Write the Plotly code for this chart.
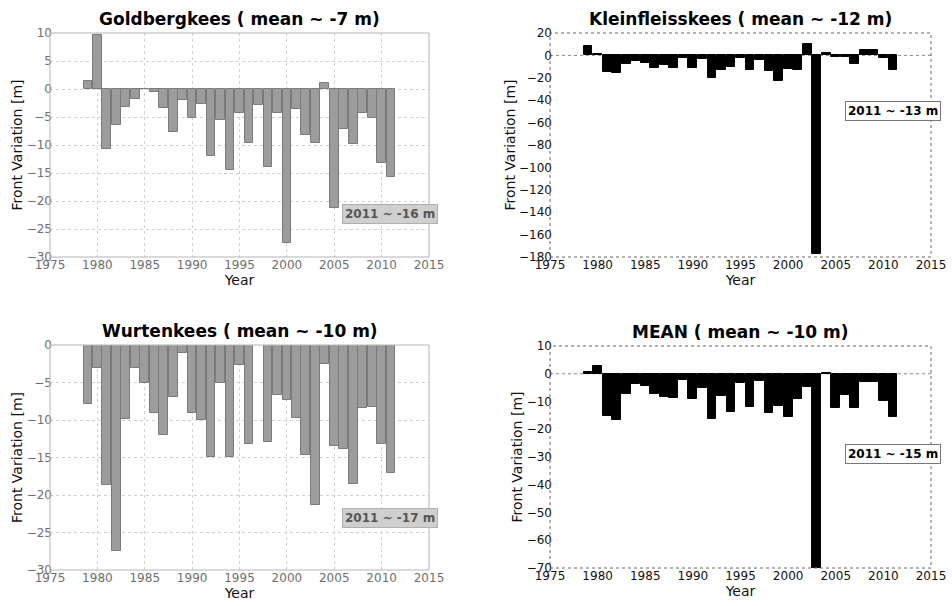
import plotly.graph_objects as go

years = list(range(1979, 2012))

gold = [1.5, 9.6, -10.8, -6.4, -3.3, -1.7, 0.0, -0.6, -3.4, -7.6, -1.9, -5.1,
        -2.6, -12.0, -5.5, -14.5, -4.2, -9.6, -2.9, -13.9, -4.2, -27.5, -3.6,
        -8.2, -9.6, 1.0, -21.3, -7.2, -9.9, -4.3, -5.1, -13.3, -15.7]

klein = [8.6, 1.5, -14.5, -15.4, -7.7, -5.0, -6.5, -11.6, -8.6, -11.3, -2.7,
         -11.6, -3.0, -20.2, -12.8, -10.7, -2.7, -13.0, -4.2, -14.2, -22.8,
         -12.5, -13.4, 9.8, -177.0, 2.4, -1.8, -1.2, -7.7, 4.7, 4.7, -2.7, -13.0]

wurten = [-7.9, -3.0, -18.7, -27.4, -9.8, -3.0, -5.0, -9.0, -12.0, -6.9, -1.0,
          -9.0, -10.0, -14.9, -5.1, -14.9, -2.7, -13.2, 0.0, -12.9, -6.6, -7.3,
          -9.7, -14.6, -21.3, -2.5, -13.4, -13.9, -18.5, -8.4, -8.2, -13.2, -17.0]

mean = [0.6, 2.7, -15.1, -16.6, -7.3, -3.7, -4.4, -7.4, -8.4, -8.7, -2.3, -9.0,
        -5.3, -16.3, -8.0, -13.7, -3.2, -12.1, -2.6, -14.3, -11.6, -15.7, -9.2,
        -4.7, -70.0, 0.2, -12.2, -7.7, -12.2, -2.8, -2.9, -9.9, -15.6]

titles = ["Goldbergkees ( mean ~ -7 m)", "Kleinfleisskees ( mean ~ -12 m)",
          "Wurtenkees ( mean ~ -10 m)", "MEAN ( mean ~ -10 m)"]
notes = ["2011 ~ -16 m", "2011 ~ -13 m", "2011 ~ -17 m", "2011 ~ -15 m"]
x_ticks = [1975, 1980, 1985, 1990, 1995, 2000, 2005, 2010, 2015]
y_ranges = [(-30, 10), (-180, 20), (-30, 0), (-70, 10)]
y_dtick = [5, 20, 5, 10]

W, H = 952, 606
def px(x0, x1):
    return [x0 / W, x1 / W]
def py(top, bot):
    return [1 - bot / H, 1 - top / H]

xdoms = [px(50, 429), px(550, 931), px(50, 429), px(550, 931)]
ydoms = [py(33, 257), py(33, 257), py(345, 570), py(346, 568)]
series = [gold, klein, wurten, mean]
gray = [True, False, True, False]

fig = go.Figure()
FONT = "DejaVu Sans"

for i in range(4):
    ax = "" if i == 0 else str(i + 1)
    g = gray[i]
    fig.add_trace(go.Bar(
        x=years, y=series[i], width=0.92,
        marker=dict(color="#9c9c9c" if g else "#000000",
                    line=dict(color="#7a7a7a" if g else "#000000", width=1)),
        xaxis="x" + ax, yaxis="y" + ax, showlegend=False))
    tickcol = "#6e6e6e" if g else "#111111"
    gridcol = "#d0d0d0"
    fig.layout["xaxis" + ax] = dict(
        domain=xdoms[i], anchor="y" + ax, range=[1975, 2015],
        tickvals=x_ticks, ticks="", showgrid=g, gridcolor=gridcol,
        griddash="dot", gridwidth=1, zeroline=False, automargin=False,
        showline=False, ticklabelstandoff=-1,
        tickfont=dict(family=FONT, size=12, color=tickcol),
        title=dict(text="Year", font=dict(family=FONT, size=14, color="#111"),
                   standoff=0))
    fig.layout["yaxis" + ax] = dict(
        domain=ydoms[i], anchor="x" + ax, range=list(y_ranges[i]),
        dtick=y_dtick[i], tick0=0, ticks="", showgrid=g, gridcolor=gridcol,
        griddash="dot", gridwidth=1, zeroline=False, automargin=False,
        showline=False, ticklabelstandoff=-3,
        tickfont=dict(family=FONT, size=12, color=tickcol),
        title=dict(text="Front Variation [m]",
                   font=dict(family=FONT, size=14, color="#111"), standoff=0))

    # plot frame
    fig.add_shape(type="rect", xref="x" + ax + " domain",
                  yref="y" + ax + " domain", x0=0, x1=1, y0=0, y1=1,
                  line=dict(color="#b5b5b5" if g else "#666666", width=1,
                            dash="solid" if g else "dot"),
                  layer="above")
    if not g:
        fig.add_shape(type="line", xref="x" + ax + " domain", yref="y" + ax,
                      x0=0, x1=1, y0=0, y1=0,
                      line=dict(color="#888888", width=1, dash="dot"),
                      layer="below")

    cx = (xdoms[i][0] + xdoms[i][1]) / 2
    fig.add_annotation(x=cx, y=ydoms[i][1], xref="paper", yref="paper",
                       xanchor="center", yanchor="bottom", yshift=2,
                       showarrow=False,
                       text="<b>" + titles[i] + "</b>",
                       font=dict(family=FONT, size=17, color="#000"))

note_pos = [(390, 214), (893, 111), (390, 518), (893, 454)]
for i in range(4):
    g = gray[i]
    x, y = note_pos[i]
    fig.add_annotation(x=x / W, y=1 - y / H, xref="paper", yref="paper",
                       xanchor="center", yanchor="middle",
                       showarrow=False, text="<b>" + notes[i] + "</b>",
                       font=dict(family=FONT, size=12,
                                 color="#555" if g else "#000"),
                       bgcolor="#cfcfcf" if g else "#ffffff",
                       bordercolor="#b0b0b0" if g else "#777777",
                       borderwidth=1, borderpad=2)

fig.update_layout(width=W, height=H, margin=dict(l=0, r=0, t=0, b=0),
                  paper_bgcolor="white", plot_bgcolor="white", bargap=0)

fig.write_html("out.html", config={"displayModeBar": False},
               post_script="document.body.style.margin='0';"
                           "document.body.style.overflow='hidden';")
